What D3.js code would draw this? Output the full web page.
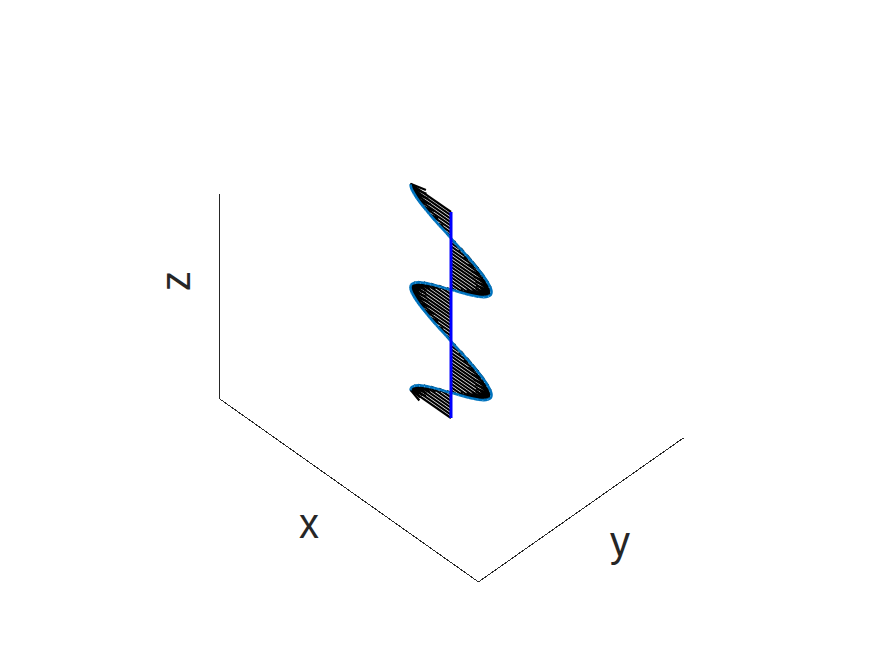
<!DOCTYPE html>
<html><head><meta charset="utf-8">
<style>html,body{margin:0;padding:0;background:#fff}svg{display:block}</style>
<script src="https://cdn.jsdelivr.net/npm/d3@7/dist/d3.min.js"></script>
</head><body><svg id="c" width="872" height="654"></svg>
<script>
// Height along the beam, read per arrow (bottom = 0, top = 2)
const zValues = [2.00,1.967,1.933,1.90,1.867,1.833,1.80,1.767,1.733,1.70,1.667,1.633,1.60,1.567,1.533,1.50,1.467,1.433,1.40,1.367,1.333,1.30,1.267,1.233,1.20,1.167,1.133,1.10,1.067,1.033,1.00,0.967,0.933,0.90,0.867,0.833,0.80,0.767,0.733,0.70,0.667,0.633,0.60,0.567,0.533,0.50,0.467,0.433,0.40,0.367,0.333,0.30,0.267,0.233,0.20,0.167,0.133,0.10,0.067,0.033,0.00];
// Arrow component along x at each height
const xValues = [-1.00,-0.98,-0.91,-0.81,-0.67,-0.50,-0.31,-0.10,0.10,0.31,0.50,0.67,0.81,0.91,0.98,1.00,0.98,0.91,0.81,0.67,0.50,0.31,0.10,-0.10,-0.31,-0.50,-0.67,-0.81,-0.91,-0.98,-1.00,-0.98,-0.91,-0.81,-0.67,-0.50,-0.31,-0.10,0.10,0.31,0.50,0.67,0.81,0.91,0.98,1.00,0.98,0.91,0.81,0.67,0.50,0.31,0.10,-0.10,-0.31,-0.50,-0.67,-0.81,-0.91,-0.98,-1.00];
const xLimits = [-3.15,3.17];
const yLimits = [-2.5,2.5];
const zTop = 1.99;
const axisLabels = ["x","y","z"];
const headBack = 0.30, headSide = 0.08;

const xToH = d3.scaleLinear([-1,1],[-40.5,40.5]);
const yToH = d3.scaleLinear([-1,1],[-41,41]);
const xToV = d3.scaleLinear([-1,1],[-28.2,28.2]);
const yToV = d3.scaleLinear([-1,1],[28.8,-28.8]);
const zToV = d3.scaleLinear([0,2],[418,212]);
const px = (x,y,z)=>[451+xToH(x)+yToH(y), zToV(z)+xToV(x)+yToV(y)];
const axH = d3.scaleLinear([-1,1],[-41,41]), axV = d3.scaleLinear([-1,1],[-29,29]);
const axPx = (x,y,z)=>[451+axH(x)+yToH(y), zToV(z)+axV(x)+yToV(y)];

const svg = d3.select("#c");
const line = d3.line();

// Box axes
const [x0,x1]=xLimits,[y0,y1]=yLimits;
svg.append("g").selectAll("path")
 .data([[[x0,y0,0],[x1,y0,0]],[[x1,y0,0],[x1,y1,0]],[[x0,y0,0],[x0,y0,zTop]]])
 .join("path").attr("fill","none").attr("stroke","#262626").attr("stroke-width",1).attr("shape-rendering","crispEdges")
 .attr("d",d=>line(d.map(p=>axPx(...p))));

// Arrows
const q = zValues.map((z,i)=>({z,x:xValues[i]}));
const hair = svg.append("g").attr("fill","none").attr("stroke","#000").attr("stroke-width",2.2).attr("stroke-linecap","butt");
hair.selectAll("path.s").data(q).join("path").attr("class","s")
 .attr("d",d=>line([px(0,0,d.z),px(d.x,0,d.z)]));
hair.selectAll("path.h").data(q).join("path").attr("class","h").attr("stroke-width",2.2)
 .attr("d",d=>line([px(d.x*(1-headBack),Math.abs(d.x)*headSide,d.z),px(d.x,0,d.z),px(d.x*(1-headBack),-Math.abs(d.x)*headSide,d.z)]));

// Wave curve
const wave = q.map(d=>px(d.x,0,d.z));
svg.append("path").attr("fill","none").attr("stroke","#0072BD").attr("stroke-width",2.6)
 .attr("transform","translate(0,0.5)")
 .attr("d",d3.line().curve(d3.curveCatmullRom)(wave));
svg.append("path").attr("fill","none").attr("stroke","#5aaede").attr("stroke-width",1).attr("stroke-dasharray","1 4")
 .attr("transform","translate(-1,1)")
 .attr("d",d3.line().curve(d3.curveCatmullRom)(wave));

// Beam axis
svg.append("path").attr("fill","none").attr("stroke","#0000ff").attr("stroke-width",3)
 .attr("d",line([px(0,0,0),px(0,0,2)]));

// Labels
const lab = svg.append("g").attr("font-family","'Liberation Sans',sans-serif").attr("fill","#262626").attr("font-size",42).attr("text-anchor","middle");
lab.append("text").attr("transform","translate(309,538) scale(.95,1)").text(axisLabels[0]);
lab.append("text").attr("transform","translate(620,556) scale(.95,1)").text(axisLabels[1]);
lab.append("text").attr("transform","translate(190,281) rotate(-90) scale(.95,1)").text(axisLabels[2]);
</script></body></html>
